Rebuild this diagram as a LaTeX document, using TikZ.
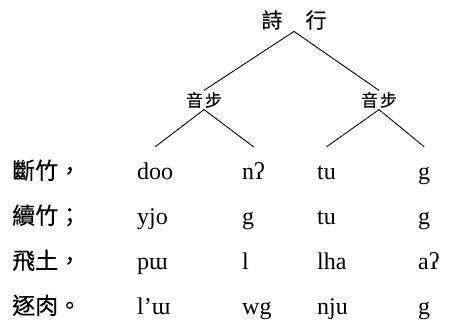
\documentclass[tikz,border=0pt]{standalone}
\usepackage{fontspec}
\setmainfont{Liberation Serif}
\newfontfamily\cjk[FakeBold=0.4]{Noto Sans CJK TC}

\begin{document}
\begin{tikzpicture}[x=1pt,y=-1pt,
  zi/.style={font=\cjk\fontsize{23}{23}\selectfont, anchor=base west, inner sep=0pt},
  leaf/.style={font=\fontsize{24}{24}\selectfont, anchor=base west, inner xsep=0pt,
               text height=14pt, inner ysep=18pt},
  head/.style={font=\cjk\fontsize{#1}{#1}\selectfont, inner sep=1.5pt},
  tree/.style={line width=0.9pt}]

\useasboundingbox (0,0) rectangle (449,321);

% the tree
\node[head=21] (line) at (294,20) {詩\hspace{1.1em}行};
\node[head=17] (f1) at (204,100) {音\hspace{2pt}步};
\node[head=17] (f2) at (379,100) {音\hspace{2pt}步};

% the four lines of the song
\foreach \lab/\a/\b/\c/\d [count=\r] in {斷竹，/doo/nʔ/tu/g, 續竹；/yjo/g/tu/g, 飛土，/pɯ/l/lha/aʔ, 逐肉。/l’ɯ/wg/nju/g}{%
    \node[zi]   (lab\r) at (12,134+45*\r)  {\lab};
    \node[leaf] (w\r a) at (137,134+45*\r) {\a};
    \node[leaf] (w\r b) at (242,134+45*\r) {\b};
    \node[leaf] (w\r c) at (317,134+45*\r) {\c};
    \node[leaf] (w\r d) at (418,134+45*\r) {\d};
}

\draw[tree] (f1.north) -- (line.south) -- (f2.north);
\draw[tree] (w1a.north) -- (f1.south) -- (w1b.north);
\draw[tree] (w1c.north) -- (f2.south) -- (w1d.north);

\end{tikzpicture}
\end{document}
